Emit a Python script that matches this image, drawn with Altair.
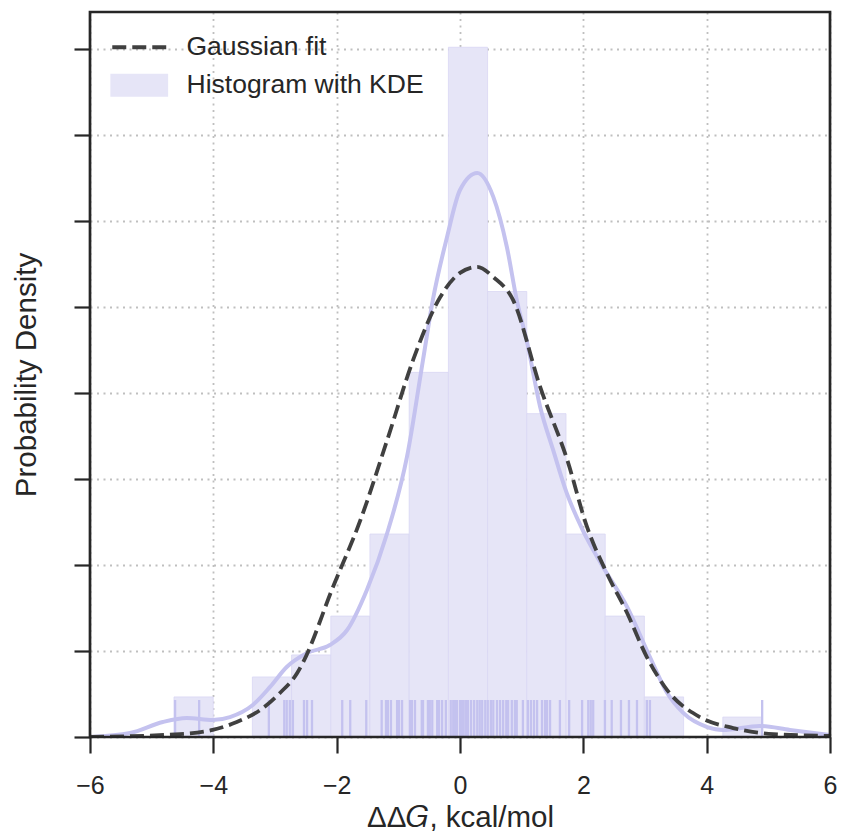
import altair as alt
import pandas as pd

# ---- data ----
hist_edges = [-4.638, -4.002, -3.367, -2.731, -2.095, -1.460, -0.824, -0.188,
              0.447, 1.083, 1.719, 2.355, 2.990, 3.626, 4.262, 4.897]
hist_density = [0.0233, 0.0, 0.0349, 0.0477, 0.0703, 0.1180, 0.2120, 0.4010,
                0.2590, 0.1880, 0.1180, 0.0703, 0.0233, 0.0, 0.0116]

kde_x = [-6.00, -5.35, -4.82, -4.43, -4.01, -3.73, -3.36, -3.08, -2.81, -2.48,
         -2.11, -1.83, -1.51, -1.18, -0.86, -0.60, -0.44, -0.21, 0.00, 0.28,
         0.54, 0.76, 0.92, 1.09, 1.30, 1.51, 1.73, 1.99, 2.32, 2.71,
         3.08, 3.36, 3.62, 4.01, 4.26, 4.86, 5.35, 6.00]
kde_y = [0.0000, 0.0023, 0.0087, 0.0110, 0.0099, 0.0116, 0.0186, 0.0291, 0.0407, 0.0488,
         0.0535, 0.0622, 0.0855, 0.1186, 0.1628, 0.2192, 0.2541, 0.2907, 0.3180, 0.3279,
         0.3140, 0.2849, 0.2541, 0.2291, 0.1919, 0.1669, 0.1419, 0.1203, 0.0988, 0.0756,
         0.0465, 0.0256, 0.0140, 0.0058, 0.0041, 0.0064, 0.0041, 0.0012]

gauss_x = [-6.00, -4.54, -4.01, -3.62, -3.24, -2.92, -2.64, -2.55, -2.06, -1.62,
           -1.18, -0.76, -0.32, 0.00, 0.28, 0.54, 0.86, 1.30, 1.74, 2.06,
           2.38, 2.71, 3.03, 3.36, 3.89, 4.43, 5.08, 6.00]
gauss_y = [0.0000, 0.0017, 0.0041, 0.0087, 0.0157, 0.0256, 0.0372, 0.0430, 0.0872, 0.1256,
           0.1727, 0.2192, 0.2558, 0.2698, 0.2733, 0.2674, 0.2541, 0.2035, 0.1610, 0.1221,
           0.0953, 0.0721, 0.0465, 0.0273, 0.0116, 0.0052, 0.0017, 0.0006]

rug_x = [-4.62, -4.23, -3.10, -2.85, -2.81, -2.76, -2.71, -2.53, -2.48, -2.40,
         -1.91, -1.78, -1.52, -1.27, -1.20, -1.17, -1.12, -1.02, -0.99, -0.94,
         -0.81, -0.78, -0.73, -0.62, -0.60, -0.52, -0.49, -0.45, -0.37, -0.34,
         -0.29, -0.23, -0.15, -0.11, -0.08, -0.05, 0.00, 0.03, 0.06, 0.10,
         0.13, 0.18, 0.23, 0.28, 0.32, 0.36, 0.41, 0.45, 0.50, 0.54,
         0.60, 0.65, 0.70, 0.75, 0.78, 0.84, 0.89, 0.92, 1.02, 1.10,
         1.15, 1.20, 1.25, 1.33, 1.38, 1.41, 1.46, 1.62, 1.77, 1.98,
         2.08, 2.12, 2.16, 2.35, 2.46, 2.61, 2.74, 2.87, 3.03, 3.08, 4.90]

x_ticks = [-6, -4, -2, 0, 2, 4, 6]
y_ticks = [0.0, 0.05, 0.10, 0.15, 0.20, 0.25, 0.30, 0.35, 0.40]
legend_labels = ["Gaussian fit", "Histogram with KDE"]

# ---- chart ----
W, H = 740, 725
Y_MAX = 0.4215
FONT = "Liberation Sans"
INK = "#262626"
LAV = "#c4c2ef"
BAR = "#e6e5f7"
DASH = "#404040"

hist_df = pd.DataFrame({"x0": hist_edges[:-1], "x1": hist_edges[1:], "density": hist_density,
                        "series": legend_labels[1]})
kde_df = pd.DataFrame({"x": kde_x, "y": kde_y})
gauss_df = pd.DataFrame({"x": gauss_x, "y": gauss_y, "series": legend_labels[0]})
rug_df = pd.DataFrame({"x": rug_x})
frame_df = pd.DataFrame({"k": [0]})

xscale = alt.Scale(domain=[-6, 6], nice=False, zero=False)
yscale = alt.Scale(domain=[0, Y_MAX], nice=False)
cscale = alt.Scale(domain=legend_labels, range=[DASH, BAR])

x_axis = alt.Axis(values=x_ticks, title="ΔΔ𝐺, kcal/mol", format="d", grid=True,
                  labelFontSize=25, titleFontSize=29.5, labelPadding=20, titlePadding=5,
                  labelFlush=False,
                  labelExpr="replace(datum.label, '-', '\u2212')")
y_axis = alt.Axis(values=y_ticks, labels=False, title="Probability Density", grid=True,
                  titleFontSize=29.5, titlePadding=31)

is_g = "datum.value === 'Gaussian fit'"
legend = alt.Legend(
    title=None, orient="none", legendX=36, legendY=22,
    labelFontSize=26.5, labelColor=INK, labelFont=FONT, labelLimit=500, symbolSize=361,
    labelOffset=34, rowPadding=7, padding=0,
    symbolType=alt.ExprRef(expr=f"{is_g} ? 'M-2.84,0H2.84' : 'M-2.84,-1H2.84V1H-2.84Z'"),
    symbolStrokeColor=alt.ExprRef(expr=f"{is_g} ? '{DASH}' : 'transparent'"),
    symbolFillColor=alt.ExprRef(expr=f"{is_g} ? 'transparent' : '{BAR}'"),
    symbolDash=alt.ExprRef(expr=f"{is_g} ? [14, 6] : [1, 0]"),
    symbolStrokeWidth=3.8,
    symbolOpacity=1,
)

color_enc = alt.Color("series:N", scale=cscale, legend=legend)

bars = alt.Chart(hist_df).mark_rect(stroke="#d9d7f4", strokeWidth=0.8).encode(
    x=alt.X("x0:Q", scale=xscale, axis=x_axis),
    x2="x1:Q",
    y=alt.Y("density:Q", scale=yscale, axis=y_axis),
    y2=alt.datum(0),
    color=color_enc,
)

rug = alt.Chart(rug_df).mark_rule(color=LAV, strokeWidth=2.3).encode(
    x=alt.X("x:Q", scale=xscale),
    y=alt.value(H - 37),
    y2=alt.value(H),
)

kde = alt.Chart(kde_df).mark_line(color=LAV, strokeWidth=4, interpolate="monotone", clip=True).encode(
    x=alt.X("x:Q", scale=xscale),
    y=alt.Y("y:Q", scale=yscale),
)

gauss = alt.Chart(gauss_df).mark_line(strokeWidth=3.8, strokeDash=[14, 6],
                                      interpolate="monotone", clip=True).encode(
    x=alt.X("x:Q", scale=xscale),
    y=alt.Y("y:Q", scale=yscale),
    color=color_enc,
)

frame = alt.Chart(frame_df).mark_rect(fill="white", fillOpacity=0, stroke=INK, strokeWidth=2.7).encode(
    x=alt.value(0), x2=alt.value(W), y=alt.value(0), y2=alt.value(H),
)

chart = alt.layer(bars, rug, kde, gauss, frame).properties(
    width=W, height=H,
    padding={"left": 90, "top": 12, "right": 13, "bottom": 100},
    autosize=alt.AutoSizeParams(type="none"),
    background="white",
).configure(font=FONT).configure_view(
    strokeWidth=0
).configure_axis(
    domain=False, tickColor=INK, tickWidth=2.2, tickSize=16,
    labelColor=INK, titleColor=INK, titleFontWeight="normal", labelFont=FONT, titleFont=FONT,
    gridColor="#bfbfbf", gridDash=[2, 4.5], gridWidth=1.8,
)

chart.save("out.html", embed_options={"renderer": "svg", "actions": False})
